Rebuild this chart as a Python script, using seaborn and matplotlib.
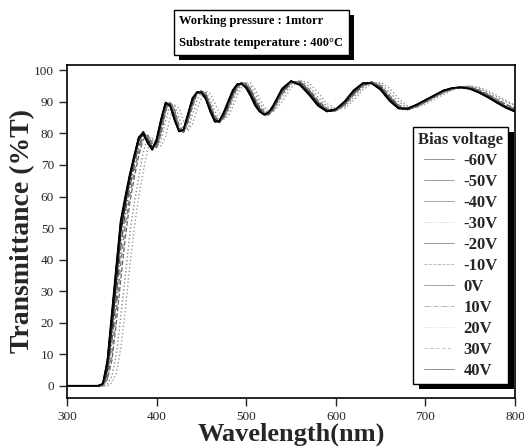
import seaborn as sns
import matplotlib.pyplot as plt
import matplotlib.patheffects as pe

# wavelength grid (nm), rows: 300-380 | 385-435 | 440-490 | 495-530 | 540-640 | 650-800
wavelength = [300, 335, 340, 345, 350, 355, 360, 365, 370, 375, 380,
              385, 390, 395, 400, 405, 410, 415, 420, 425, 430, 435,
              440, 445, 450, 455, 460, 465, 470, 475, 480, 485, 490,
              495, 500, 505, 510, 515, 520, 525, 530,
              540, 550, 560, 570, 580, 590, 600, 610, 620, 630, 640,
              650, 660, 670, 680, 690, 700, 710, 720, 730, 740, 750, 760, 770, 780, 790, 800]

t_m60 = [0, 0, 0.5, 7, 22, 37, 52, 59, 66, 72, 78,
         80, 77, 75, 78, 84, 89.5, 89, 84.5, 81, 81, 86,
         91, 93, 93, 91, 87, 83.8, 83.8, 86.5, 90, 93.5, 95.5,
         95.8, 94.5, 92, 89, 87, 86, 86.5, 88.5,
         94, 96.5, 95.5, 92.5, 89, 87, 87.5, 90, 93.5, 95.8, 96,
         94, 90.5, 88, 87.8, 89, 90.5, 92, 93.5, 94.3, 94.6, 94.2, 93, 91.5, 89.8, 88.2, 87]
t_m50 = [0, 0, 0.3, 5, 18, 33, 49, 57.5, 65.5, 72, 78,
         80.5, 78, 75.5, 77, 83.5, 89, 89.5, 85, 81, 80.5, 85,
         90, 93, 93.3, 92, 88, 84.5, 83.5, 85.5, 89, 92.5, 95,
         96, 95, 93, 90, 87.5, 86, 86, 88,
         93.5, 96.3, 96, 93, 89.5, 87.2, 87.3, 89.5, 93, 95.5, 96.2,
         94.5, 91, 88.3, 87.6, 88.6, 90.2, 91.8, 93.3, 94.2, 94.7, 94.4, 93.2, 91.8, 90, 88.4, 87.2]
t_m40 = [0, 0, 0.6, 7.5, 21, 36, 51, 59.5, 66.5, 72.5, 78.5,
         80.2, 77.5, 75.2, 77.5, 84, 89.5, 89.2, 84.5, 80.8, 80.8, 85.5,
         90.6, 93, 93.2, 91.3, 87.5, 84.2, 83.8, 86, 89.6, 93.2, 95.4,
         96, 94.8, 92.4, 89.4, 87.2, 86, 86.3, 88.2,
         93.8, 96.4, 95.7, 92.8, 89.2, 87.1, 87.4, 89.8, 93.3, 95.7, 96.1,
         94.2, 90.7, 88.1, 87.7, 88.9, 90.4, 91.9, 93.4, 94.3, 94.6, 94.3, 93.1, 91.6, 89.9, 88.3, 87.1]
t_m30 = [0, 0, 0, 0.5, 3, 10, 22, 35, 48, 58, 66,
         74, 79, 78, 75.5, 78, 84, 89, 89, 85, 81, 81.5,
         86, 90.5, 93, 93, 90.5, 87, 84.5, 84.5, 87, 90.5, 93.5,
         95.5, 96, 95, 92.5, 89.5, 87.5, 86.5, 87,
         91.5, 95.5, 96.8, 95, 91.5, 88.5, 87.5, 88.5, 91.5, 94.5, 96.2,
         95.8, 93, 90, 88.3, 88.5, 89.8, 91.3, 92.8, 94, 94.8, 95, 94.3, 93, 91.5, 90, 88.8]
t_m20 = [0, 0, 0.4, 6, 20, 35, 50.5, 58.5, 66, 72.5, 78.5,
         80.5, 77.8, 75.3, 77.2, 83.8, 89.3, 89.4, 84.8, 81, 80.6, 85.2,
         90.3, 93, 93.3, 91.6, 87.8, 84.3, 83.6, 85.8, 89.3, 92.8, 95.2,
         96, 94.9, 92.7, 89.7, 87.3, 86, 86.1, 88.1,
         93.6, 96.4, 95.9, 92.9, 89.4, 87.2, 87.3, 89.6, 93.1, 95.6, 96.2,
         94.4, 90.9, 88.2, 87.6, 88.7, 90.3, 91.8, 93.3, 94.2, 94.7, 94.4, 93.2, 91.7, 89.9, 88.3, 87.1]
t_m10 = [0, 0, 0, 2, 8, 20, 34, 47, 58, 66, 73,
         78, 79.5, 77, 75.5, 80, 87, 90, 87.5, 82.5, 80.5, 83.5,
         88.5, 92.5, 93.5, 92.5, 89, 85.5, 84, 85, 88, 91.5, 94.5,
         96, 95.8, 94, 91, 88.5, 86.8, 86.2, 87.5,
         92.5, 96, 96.5, 94, 90.5, 87.8, 87.3, 89, 92.3, 95, 96.3,
         95.2, 92, 89, 87.8, 88.6, 90, 91.5, 93, 94.1, 94.8, 94.7, 93.8, 92.4, 90.8, 89.2, 88]
t_0 = [0, 0, 0.5, 6.5, 21, 36.5, 51.5, 59, 66.5, 72.5, 78.2,
       80.3, 77.3, 75.1, 77.8, 84.2, 89.6, 89.1, 84.6, 80.9, 80.9, 85.8,
       90.8, 93, 93.1, 91.2, 87.3, 84, 83.9, 86.2, 89.8, 93.3, 95.5,
       95.9, 94.6, 92.2, 89.2, 87.1, 86, 86.4, 88.4,
       93.9, 96.5, 95.6, 92.6, 89.1, 87, 87.5, 89.9, 93.4, 95.8, 96,
       94.1, 90.6, 88, 87.8, 89, 90.5, 92, 93.5, 94.3, 94.6, 94.2, 93, 91.5, 89.8, 88.2, 87]
t_p10 = [0, 0, 0.2, 3.5, 14, 28, 44, 55, 63, 70, 76,
         79.5, 78.5, 76, 76, 81.5, 88, 90, 86, 81.5, 80.5, 84.5,
         89.5, 92.8, 93.5, 92.2, 88.5, 85, 83.7, 85.3, 88.6, 92.2, 94.8,
         96, 95.4, 93.5, 90.5, 88, 86.4, 86, 87.8,
         93, 96.2, 96.3, 93.5, 90, 87.5, 87.2, 89.3, 92.7, 95.3, 96.3,
         94.8, 91.5, 88.6, 87.6, 88.5, 90, 91.6, 93.1, 94.1, 94.8, 94.6, 93.5, 92.1, 90.4, 88.8, 87.6]
t_p20 = [0, 0, 0, 0, 1, 4, 12, 24, 38, 50, 60,
         68, 75, 78.5, 77, 76, 79, 85, 89, 88, 84, 81,
         83, 87.5, 91.5, 93.5, 92.5, 89.5, 86.5, 84.5, 85.5, 88.5, 92,
         94.5, 96, 96, 94, 91, 88.5, 87, 86.8,
         90, 94.5, 96.8, 96, 93, 89.5, 87.8, 88, 90.5, 93.8, 95.8,
         96.2, 94.3, 91, 88.7, 88.2, 89.3, 90.8, 92.3, 93.7, 94.6, 95, 94.6, 93.4, 92, 90.4, 89]
t_p30 = [0, 0, 0, 2.5, 10, 24, 39, 51, 60.5, 68, 74.5,
         79, 79, 76.5, 75.5, 80.5, 87.5, 90, 87, 82, 80.5, 84,
         89, 92.6, 93.5, 92.4, 88.8, 85.3, 83.8, 85, 88.3, 91.8, 94.6,
         96, 95.6, 93.8, 90.8, 88.2, 86.6, 86.1, 87.6,
         92.8, 96.1, 96.4, 93.8, 90.2, 87.6, 87.2, 89.1, 92.5, 95.1, 96.3,
         95, 91.7, 88.8, 87.7, 88.5, 90, 91.5, 93, 94.1, 94.8, 94.7, 93.7, 92.3, 90.6, 89, 87.8]
t_p40 = [0, 0, 0.7, 8, 23, 38, 52.5, 60, 67, 73, 78.8,
         80, 77, 74.8, 78.2, 84.6, 89.8, 88.8, 84.2, 80.6, 81.2, 86.2,
         91.2, 93, 92.9, 90.8, 86.8, 83.7, 84, 86.8, 90.3, 93.7, 95.6,
         95.7, 94.3, 91.8, 88.8, 86.9, 86, 86.7, 88.8,
         94.2, 96.6, 95.3, 92.3, 88.8, 87, 87.7, 90.2, 93.7, 95.9, 95.9,
         93.8, 90.3, 87.9, 87.9, 89.1, 90.6, 92.1, 93.6, 94.4, 94.6, 94.1, 92.9, 91.4, 89.7, 88.1, 86.9]

bias_labels = ["-60V", "-50V", "-40V", "-30V", "-20V", "-10V", "0V", "10V", "20V", "30V", "40V"]
curves = [t_m60, t_m50, t_m40, t_m30, t_m20, t_m10, t_0, t_p10, t_p20, t_p30, t_p40]
colors = ["#000000", "#222222", "#333333", "#8a8a8a", "#1a1a1a", "#666666",
          "#2a2a2a", "#555555", "#9a9a9a", "#777777", "#000000"]
styles = ["-", "-", "-", ":", "-", "--", "-", "-.", ":", (0, (4, 3)), "-"]
widths = [1.3, 1.2, 1.2, 1.0, 1.2, 0.9, 1.2, 0.9, 1.0, 0.9, 1.3]

sns.set_style("ticks")
plt.rcParams["font.family"] = ["Liberation Serif", "DejaVu Serif"]

fig = plt.figure(figsize=(5.24, 4.48), dpi=100)
ax = fig.add_axes([0.128, 0.112, 0.855, 0.743])

for lab, vals, c, ls, lw in zip(bias_labels, curves, colors, styles, widths):
    sns.lineplot(x=wavelength, y=vals, ax=ax, color=c, linestyle=ls, linewidth=lw,
                 label=lab, sort=False, estimator=None)

ax.set_xlim(300, 800)
ax.set_ylim(-3.8, 101.7)
ax.set_xticks([300, 400, 500, 600, 700, 800])
ax.set_yticks(range(0, 101, 10))
ax.tick_params(direction="out", length=6, width=1, labelsize=9.5, top=False, right=False)
for sp in ax.spines.values():
    sp.set_linewidth(1.2)
    sp.set_color("black")

ax.set_xlabel("Wavelength(nm)", fontsize=19, fontweight="bold", labelpad=0)
ax.set_ylabel("Transmittance (%T)", fontsize=20, fontweight="bold", labelpad=-1)

leg = ax.legend(title="Bias voltage", loc="upper right", bbox_to_anchor=(0.985, 0.814),
                prop=dict(weight="bold", size=12),
                title_fontproperties=dict(weight="bold", size=12),
                frameon=True, fancybox=False, edgecolor="black", framealpha=1,
                handlelength=1.8, handletextpad=0.6, labelspacing=0.3,
                borderpad=0.3, borderaxespad=0)
leg.get_frame().set_linewidth(1.0)
leg.get_frame().set_path_effects([pe.SimplePatchShadow(offset=(4, -4), shadow_rgbFace="black", alpha=1),
                                  pe.Normal()])
for h in leg.get_lines():
    h.set_linewidth(0.6)
    h.set_alpha(0.5)

box_text = "Working pressure : 1mtorr\nSubstrate temperature : 400\u00b0C"
note = fig.text(0.342, 0.928, box_text, fontsize=9, fontweight="bold", linespacing=2.1,
                va="center", ha="left", color="black",
                bbox=dict(boxstyle="square,pad=0.45", fc="white", ec="black", lw=1.0))
note.get_bbox_patch().set_path_effects([pe.SimplePatchShadow(offset=(4, -4), shadow_rgbFace="black", alpha=1),
                                        pe.Normal()])

fig.savefig("out.png", dpi=100)
